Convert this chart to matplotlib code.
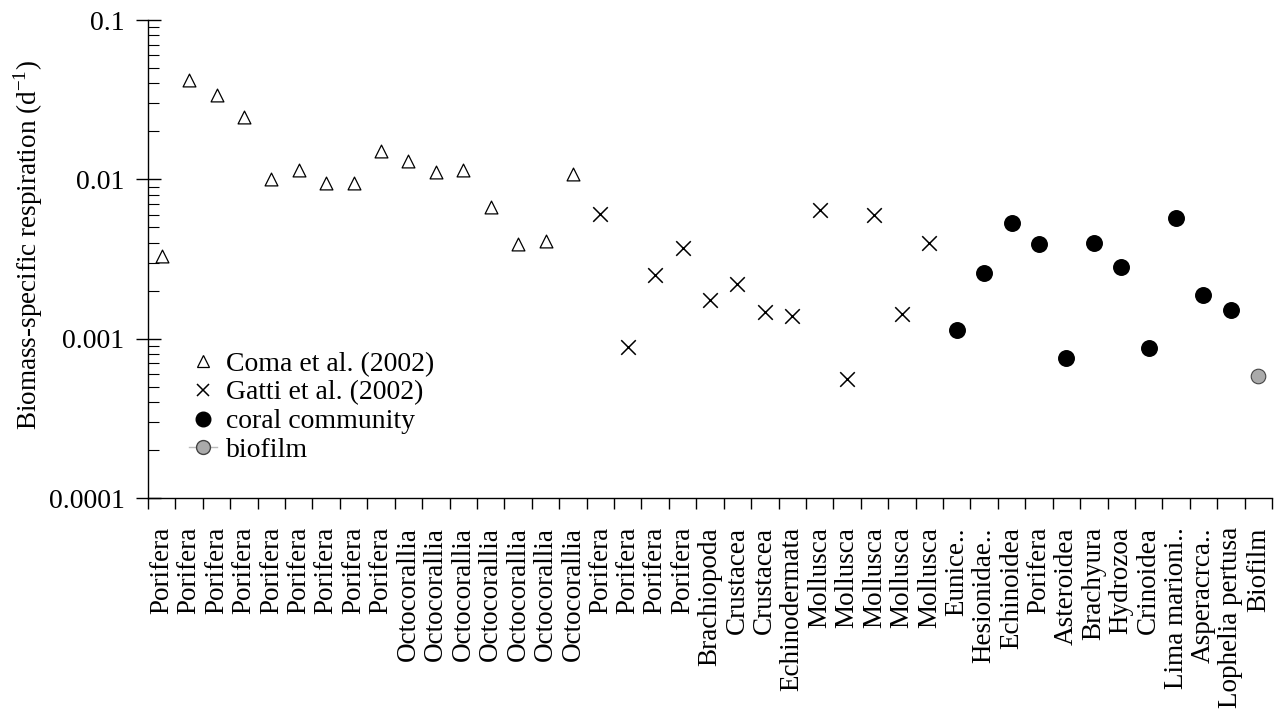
import matplotlib
matplotlib.use("Agg")
import matplotlib.pyplot as plt
from matplotlib.lines import Line2D
from matplotlib.ticker import FixedLocator, NullFormatter, LogLocator

plt.rcParams["font.family"] = ["Liberation Serif", "DejaVu Serif"]

coma_labels = ["Porifera"] * 9 + ["Octocorallia"] * 7
coma_values = [0.0033, 0.042, 0.034, 0.0245, 0.0100, 0.0115, 0.0095, 0.0095,
               0.0150, 0.0130, 0.0111, 0.0115, 0.0067, 0.0039, 0.0041, 0.0108]

gatti_labels = ["Porifera"] * 4 + ["Brachiopoda", "Crustacea", "Crustacea",
                                   "Echinodermata"] + ["Mollusca"] * 5
gatti_values = [0.0061, 0.00089, 0.0025, 0.0037, 0.00175, 0.0022, 0.00148,
                0.00138, 0.0064, 0.00056, 0.0060, 0.00142, 0.0040]

coral_labels = ["Eunice..", "Hesionidae..", "Echinoidea", "Porifera",
                "Asteroidea", "Brachyura", "Hydrozoa", "Crinoidea",
                "Lima marioni..", "Asperacrca..", "Lophelia pertusa"]
coral_values = [0.00113, 0.0026, 0.0053, 0.0039, 0.00076, 0.0040, 0.0028,
                0.00087, 0.0057, 0.00188, 0.00152]

biofilm_labels = ["Biofilm"]
biofilm_values = [0.00058]

labels = coma_labels + gatti_labels + coral_labels + biofilm_labels
n0 = len(coma_labels)
n1 = n0 + len(gatti_labels)
n2 = n1 + len(coral_labels)
x_coma = list(range(0, n0))
x_gatti = list(range(n0, n1))
x_coral = list(range(n1, n2))
x_bio = list(range(n2, len(labels)))

fig = plt.figure(figsize=(12.78, 7.17), dpi=100)
ax = fig.add_axes([148 / 1278, 1 - 498 / 717, (1272 - 148) / 1278, (498 - 20) / 717])

ax.scatter(x_coma, coma_values, marker="^", s=85, facecolors="white",
           edgecolors="black", linewidths=0.9, zorder=3)
ax.scatter(x_gatti, gatti_values, marker="x", s=110, color="black",
           linewidths=1.1, zorder=3)
ax.scatter(x_coral, coral_values, marker="o", s=125, color="black", zorder=3)
ax.scatter(x_bio, biofilm_values, marker="o", s=110, facecolors="#aaaaaa",
           edgecolors="#444444", linewidths=0.8, zorder=3)

ax.set_yscale("log")
ax.set_ylim(0.0001, 0.1)
ax.set_xlim(-0.5, len(labels) - 0.5)
ax.set_yticks([0.0001, 0.001, 0.01, 0.1])
ax.set_yticklabels(["0.0001", "0.001", "0.01", "0.1"])
ax.yaxis.set_minor_locator(LogLocator(base=10, subs=range(2, 10)))
ax.yaxis.set_minor_formatter(NullFormatter())
ax.tick_params(axis="y", which="major", direction="inout", length=18,
               width=1, labelsize=20, pad=8)
ax.tick_params(axis="y", which="minor", direction="in", length=8, width=0.8)

ax.xaxis.set_major_locator(FixedLocator([i - 0.5 for i in range(len(labels) + 1)]))
ax.xaxis.set_major_formatter(NullFormatter())
ax.xaxis.set_minor_locator(FixedLocator(range(len(labels))))
ax.set_xticklabels(labels, minor=True, rotation=90, fontsize=19.5)
ax.tick_params(axis="x", which="major", direction="out", length=8, width=1)
ax.tick_params(axis="x", which="minor", length=0, pad=21)

for side in ("top", "right"):
    ax.spines[side].set_visible(False)
for side in ("left", "bottom"):
    ax.spines[side].set_linewidth(1)

ax.set_ylabel("Biomass-specific respiration (d$^{\\mathregular{-1}}$)", fontsize=19.5)
ax.yaxis.set_label_coords(-0.092, 0.53)

handles = [
    Line2D([], [], ls="none", marker="^", ms=8, mfc="white", mec="black",
           mew=0.9, label="Coma et al. (2002)"),
    Line2D([], [], ls="none", marker="x", ms=9, color="black", mew=1.1,
           label="Gatti et al. (2002)"),
    Line2D([], [], ls="none", marker="o", ms=10.5, color="black",
           label="coral community"),
    Line2D([], [], ls="-", color="#bbbbbb", lw=1, marker="o", ms=10,
           mfc="#aaaaaa", mec="#444444", label="biofilm"),
]
ax.legend(handles=handles, loc="lower left", bbox_to_anchor=(0.024, 0.044),
          frameon=False, fontsize=20, handlelength=1.0, handletextpad=0.35,
          labelspacing=0.12, borderpad=0)

fig.savefig("out.png", dpi=100)
